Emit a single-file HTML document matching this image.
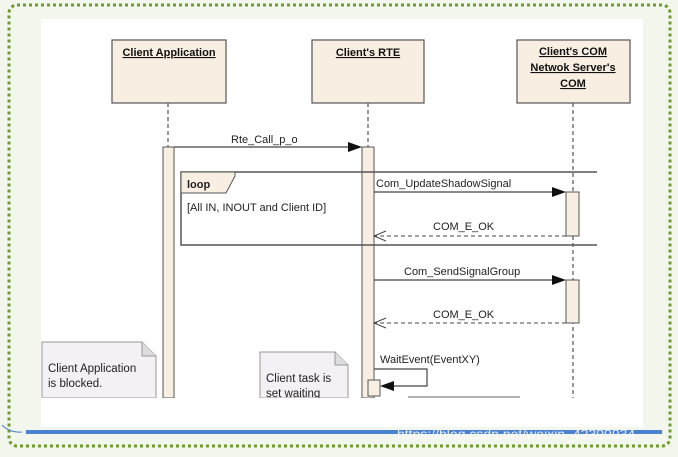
<!DOCTYPE html>
<html><head><style>
body{margin:0;width:678px;height:452px;background:#f2f6ec;overflow:hidden;font-family:"Liberation Sans",sans-serif}
</style></head><body>
<svg width="678" height="452" xmlns="http://www.w3.org/2000/svg" font-family="Liberation Sans, sans-serif">
<rect x="0" y="0" width="678" height="452" fill="#f2f6ec"/>
<rect x="9" y="5" width="661" height="441" rx="8" fill="none" stroke="#6e9a2e" stroke-width="3" stroke-dasharray="3,3"/>
<rect x="41" y="19" width="602" height="408" fill="#fff"/>
<!-- lifelines -->
<g stroke="#333" stroke-width="1" stroke-dasharray="4,3">
<line x1="168" y1="103" x2="168" y2="147"/>
<line x1="368" y1="103" x2="368" y2="147"/>
<line x1="573" y1="103" x2="573" y2="398"/>
</g>
<!-- heads -->
<g fill="#f8efe2" stroke="#555" stroke-width="1.2">
<rect x="112" y="40" width="114" height="63"/>
<rect x="312" y="40" width="112" height="63"/>
<rect x="517" y="40" width="113" height="63"/>
</g>
<g font-size="11" font-weight="bold" text-anchor="middle" text-decoration="underline" fill="#111">
<text x="169" y="56">Client Application</text>
<text x="368" y="56">Client's RTE</text>
<text x="573" y="55">Client's COM</text>
<text x="573" y="71">Netwok Server's</text>
<text x="573" y="87">COM</text>
</g>
<!-- activations -->
<g fill="#f8efe2" stroke="#555" stroke-width="1">
<rect x="163" y="147" width="11" height="251"/>
<rect x="362" y="147" width="12" height="251"/>
<rect x="566" y="192" width="13" height="44"/>
<rect x="566" y="280" width="13" height="43"/>
<rect x="368" y="380" width="12" height="16"/>
</g>
<!-- loop frame -->
<g fill="none" stroke="#555" stroke-width="1.5">
<polyline points="597,172 181,172 181,245 597,245"/>
</g>
<polygon points="181,172 235,172 235,176 226,193 181,193" fill="#f8efe2" stroke="#555"/>
<text x="187" y="188" font-size="11" font-weight="bold" fill="#222">loop</text>
<text x="187" y="211" font-size="11" fill="#222">[All IN, INOUT and Client ID]</text>
<!-- messages -->
<g stroke="#444" stroke-width="1.2">
<line x1="174" y1="147" x2="350" y2="147"/>
<line x1="374" y1="192" x2="554" y2="192"/>
<line x1="374" y1="280" x2="554" y2="280"/>
<polyline points="374,369 427,369 427,386 392,386" fill="none"/>
</g>
<g fill="#111">
<polygon points="348,142 362,147 348,152"/>
<polygon points="552,187 566,192 552,197"/>
<polygon points="552,275 566,280 552,285"/>
<polygon points="394,381 380,386 394,391"/>
</g>
<g stroke="#444" stroke-width="1" stroke-dasharray="4,3" fill="none">
<line x1="566" y1="236" x2="374" y2="236"/>
<line x1="566" y1="323" x2="374" y2="323"/>
</g>
<g stroke="#444" stroke-width="1" fill="none">
<polyline points="386,231 374,236 386,241"/>
<polyline points="386,318 374,323 386,328"/>
</g>
<g font-size="11" fill="#222">
<text x="231" y="143">Rte_Call_p_o</text>
<text x="376" y="187">Com_UpdateShadowSignal</text>
<text x="433" y="230">COM_E_OK</text>
<text x="404" y="275">Com_SendSignalGroup</text>
<text x="433" y="318">COM_E_OK</text>
<text x="380" y="363">WaitEvent(EventXY)</text>
</g>
<line x1="408" y1="397" x2="520" y2="397" stroke="#999" stroke-width="1.5"/>
<!-- notes -->
<polygon points="42,342 142,342 156,356 156,398 42,398" fill="#f3f0f6" stroke="#999"/>
<polyline points="142,342 142,356 156,356" fill="#ddd" stroke="#999"/>
<polygon points="260,352 335,352 348,365 348,398 260,398" fill="#f3f0f6" stroke="#999"/>
<polyline points="335,352 335,365 348,365" fill="#ddd" stroke="#999"/>
<g font-size="11.5" fill="#222">
<text x="48" y="372">Client Application</text>
<text x="48" y="387">is blocked.</text>
<text x="266" y="382">Client task is</text>
<text x="266" y="397">set waiting</text>
</g>
<rect x="41" y="398" width="602" height="29" fill="#fff"/>
<!-- blue line -->
<path d="M2,425 Q10,433 22,432" fill="none" stroke="#4a7ec8" stroke-width="1"/>
<rect x="26" y="430" width="636" height="4" fill="#4a82d0"/>
<text x="397" y="439" font-size="14" fill="#fff" opacity="0.85">https://blog.csdn.net/weixin_42399934</text>
</svg>
</body></html>
